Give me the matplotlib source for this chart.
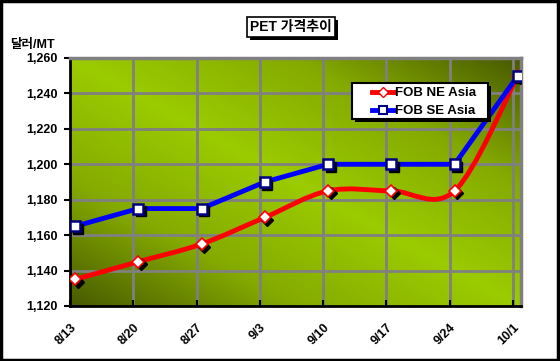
import numpy as np
import matplotlib
matplotlib.use("Agg")
import matplotlib.pyplot as plt
from matplotlib.path import Path
from matplotlib.patches import PathPatch, Rectangle
from matplotlib.colors import LinearSegmentedColormap
from matplotlib.lines import Line2D
import matplotlib.transforms as mtransforms

plt.rcParams['font.family'] = ['Liberation Sans', 'Noto Sans CJK KR', 'DejaVu Sans']

dates = ['8/13', '8/20', '8/27', '9/3', '9/10', '9/17', '9/24', '10/1']
fob_ne = [1135, 1145, 1155, 1170, 1185, 1185, 1185, 1250]
fob_se = [1165, 1175, 1175, 1190, 1200, 1200, 1200, 1250]
yticks = [1120, 1140, 1160, 1180, 1200, 1220, 1240, 1260]
series_names = ['FOB NE Asia', 'FOB SE Asia']
title = 'PET 가격추이'
unit = '달러/MT'

W, H = 560, 361
fig = plt.figure(figsize=(W/100, H/100), dpi=100)
L, R, T, B = 70, 521, 58, 306
ax = fig.add_axes([L/W, 1-B/H, (R-L)/W, (B-T)/H])

x = np.arange(len(dates))
off = 0.08
ax.set_xlim(-off, len(dates)-1+0.05)
ax.set_ylim(1120, 1260)

# gradient background
n = 200
gx, gy = np.meshgrid(np.linspace(0, 1, n), np.linspace(1, 0, n))
val = np.abs(gx + gy - 1)
cmap = LinearSegmentedColormap.from_list('g', ['#9bcb00', '#84aa00', '#485a00'])
ax.imshow(val, extent=[0, 1, 0, 1], transform=ax.transAxes, cmap=cmap,
          aspect='auto', zorder=0, vmin=0, vmax=1)

# grid
for i in range(1, len(dates)):
    ax.axvline(i-off, color='#808080', lw=2, zorder=1)
for yv in yticks[1:-1]:
    ax.axhline(yv, color='#808080', lw=2, zorder=1)

# smoothed NE line (Excel-like bezier)
pts = np.column_stack([x, fob_ne]).astype(float)
verts = [pts[0]]
codes = [Path.MOVETO]
npt = len(pts)
for i in range(npt-1):
    p0 = pts[max(i-1, 0)]
    p1 = pts[i]
    p2 = pts[i+1]
    p3 = pts[min(i+2, npt-1)]
    c1 = p1 + (p2 - p0)/6
    c2 = p2 - (p3 - p1)/6
    verts += [c1, c2, p2]
    codes += [Path.CURVE4]*3
path = Path(verts, codes)
ax.add_patch(PathPatch(path, fill=False, edgecolor='#ff0000', lw=3.5, zorder=3,
                       capstyle='round', joinstyle='round'))

# SE line
ax.plot(x, fob_se, color='#0000ff', lw=3.5, zorder=3, solid_joinstyle='round')

# marker shadows
sh = mtransforms.offset_copy(ax.transData, fig=fig, x=2.5, y=-2.5, units='dots')
ax.plot(x, fob_ne, ls='none', marker='D', ms=6.5, color='black', transform=sh, zorder=4)
ax.plot(x, fob_se, ls='none', marker='s', ms=7, color='black', transform=sh, zorder=4)
ax.plot(x, fob_ne, ls='none', marker='D', ms=6.5, mfc='white', mec='#ff0000', mew=1.2, zorder=5)
ax.plot(x, fob_se, ls='none', marker='s', ms=7, mfc='white', mec='#000080', mew=1.8, zorder=5)

# axes styling
ax.set_yticks(yticks)
ax.set_yticklabels([f'{v:,}' for v in yticks], fontsize=9, fontweight='bold')
ax.set_xticks(x - off)
ax.set_xticklabels(dates, fontsize=9, fontweight='bold', rotation=45, ha='right',
                   rotation_mode='anchor')
lab_off = mtransforms.ScaledTranslation(5/100, 0, fig.dpi_scale_trans)
for lab in ax.get_xticklabels():
    lab.set_transform(lab.get_transform() + lab_off)
ax.tick_params(axis='y', direction='out', length=4, width=1.5, pad=5)
ax.tick_params(axis='x', direction='in', length=4, width=1.5, pad=11)
for s in ['left', 'bottom']:
    ax.spines[s].set_color('black')
    ax.spines[s].set_linewidth(2)
for s in ['top', 'right']:
    ax.spines[s].set_color('#808080')
    ax.spines[s].set_linewidth(2.5)

# legend (manual, pixel coordinates)
px = lambda X, Y: (X/W, 1-Y/H)
lx0, ly0, lx1, ly1 = 352, 83, 488, 119
fig.add_artist(Rectangle(px(lx0+3, ly1+3), (lx1-lx0)/W, (ly1-ly0)/H, transform=fig.transFigure,
                         facecolor='black', edgecolor='none', zorder=9))
fig.add_artist(Rectangle(px(lx0, ly1), (lx1-lx0)/W, (ly1-ly0)/H, transform=fig.transFigure,
                         facecolor='white', edgecolor='black', lw=1.5, zorder=10))
styles = [dict(color='#ff0000', marker='D', ms=5, mfc='white', mec='#ff0000', mew=1),
          dict(color='#0000ff', marker='s', ms=6, mfc='white', mec='#000080', mew=1.5)]
for k, (name, st) in enumerate(zip(series_names, styles)):
    yy = 92 + k*18
    fig.add_artist(Line2D([372/W, 394/W], [1-yy/H, 1-yy/H], lw=3.5, transform=fig.transFigure,
                          color=st['color'], zorder=11))
    fig.add_artist(Line2D([383/W], [1-yy/H], ls='none', transform=fig.transFigure, zorder=12,
                          marker=st['marker'], ms=st['ms'], mfc=st['mfc'], mec=st['mec'], mew=st['mew']))
    fig.text(395/W, 1-(yy+0.5)/H, name, ha='left', va='center', fontsize=9.5, fontweight='bold', zorder=12)

# title
t = fig.text(291/W, 1-27/H, title, ha='center', va='center', fontsize=10, fontweight='bold',
             bbox=dict(boxstyle='square,pad=0.25', facecolor='white', edgecolor='black', lw=1.2),
             zorder=10)
fig.canvas.draw()
tb = t.get_bbox_patch().get_window_extent()
fig.add_artist(Rectangle((tb.x0+3, tb.y0-3), tb.width, tb.height, transform=None,
                         facecolor='black', edgecolor='none', zorder=9))

fig.text(10/W, 1-45/H, unit, ha='left', va='center', fontsize=9, fontweight='bold')

# figure border
fig.add_artist(Rectangle((0.002, 0.003), 0.995, 0.994, transform=fig.transFigure,
                         fill=False, edgecolor='black', lw=2.5))

fig.savefig('out.png', dpi=100)
